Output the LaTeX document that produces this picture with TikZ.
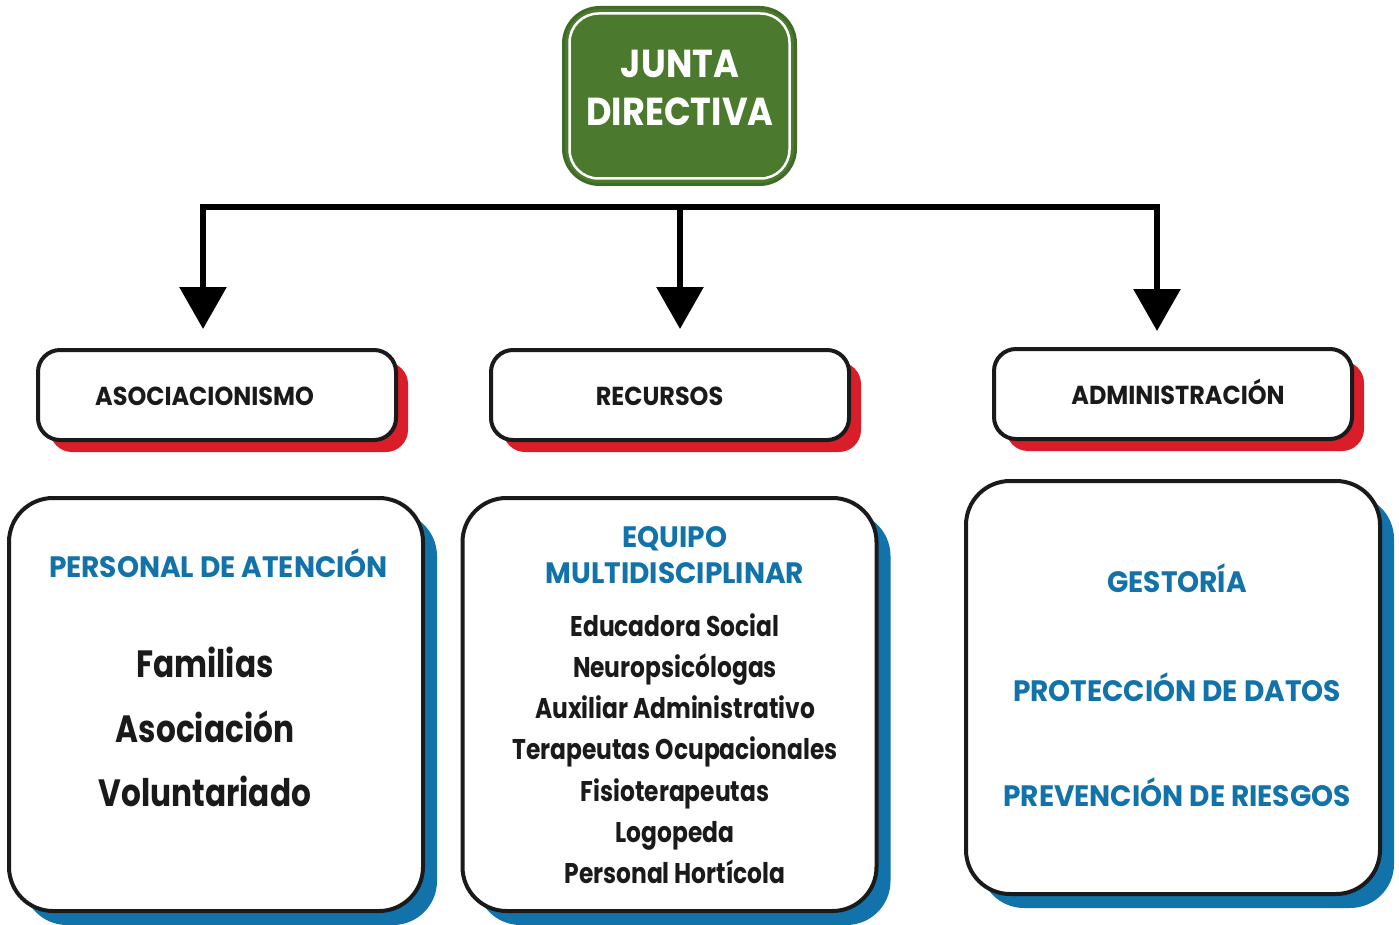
\documentclass[tikz,border=0pt]{standalone}
\usepackage{fontspec}
\setmainfont{Poppins}[FakeStretch=0.82, UprightFont=*-Bold, BoldFont=*-Bold]
\newfontfamily\capsfont{Poppins}[FakeStretch=0.95, UprightFont=*-Bold, BoldFont=*-Bold]
\newfontfamily\headfont{Poppins}[FakeStretch=0.92, UprightFont=*-Bold, BoldFont=*-Bold]
\newfontfamily\titlefont{Poppins}[FakeStretch=0.9, UprightFont=*-Bold, BoldFont=*-Bold]
\usetikzlibrary{arrows.meta,shadows,calc}
\definecolor{jgreen}{HTML}{4B7A2F}
\definecolor{jgreendark}{HTML}{3F6B27}
\definecolor{sred}{HTML}{D91E2A}
\definecolor{sblue}{HTML}{1273AB}
\definecolor{ink}{HTML}{1A1A1A}
\tikzset{
  tipbig/.tip={Triangle[width=46pt,length=42pt]},
  topbox/.style={fill=jgreen, draw=jgreendark, line width=3pt, rounded corners=36pt,
    minimum width=232pt, minimum height=177pt, inner sep=0pt},
  titletxt/.style={text=white, anchor=base, inner sep=0pt, font=\titlefont\fontsize{39}{47}\selectfont},
  headbox/.style={fill=white, draw=ink, line width=4pt, rounded corners=22pt,
    minimum width=358pt, minimum height=90pt, inner sep=0pt,
    general shadow={fill=sred, shadow xshift=12pt, shadow yshift=-12pt}},
  headtxt/.style={text=ink, anchor=base, inner sep=0pt, font=\headfont\fontsize{26}{30}\selectfont},
  bodybox/.style={fill=white, draw=ink, line width=4pt, rounded corners=44pt,
    minimum width=414pt, minimum height=413pt, inner sep=0pt,
    general shadow={fill=sblue, shadow xshift=14pt, shadow yshift=-14pt}},
  conn/.style={line width=6pt, draw=black, line join=miter},
  bluetxt/.style={text=sblue, anchor=base, inner sep=0pt, font=\capsfont\fontsize{29.5}{35}\selectfont},
  bigtxt/.style={text=ink, anchor=base, inner sep=0pt, font=\fontsize{38}{44}\selectfont},
  listtxt/.style={text=ink, anchor=base, inner sep=0pt, font=\fontsize{28.5}{33}\selectfont},
}
\begin{document}
\begin{tikzpicture}[x=1pt,y=-1pt]
\useasboundingbox (0,0) rectangle (1399,925);
% top box
\node[topbox] (jd) at (679.5,96) {};
\draw[white, line width=2.5pt, rounded corners=29pt]
  ($(jd.south west)+(7.5,-7.5)$) rectangle ($(jd.north east)+(-7.5,7.5)$);
\node[titletxt] (jd1) at (680,78) {JUNTA};
\node[titletxt] (jd2) at (680,126) {DIRECTIVA};
% header boxes
\node[headbox] (asoc) at (217,395) {};
\node[headtxt] (asoct) at (204.5,405) {ASOCIACIONISMO};
\node[headbox] (recu) at (670,395) {};
\node[headtxt] (recut) at (659.5,405) {RECURSOS};
\node[headbox] (admi) at (1173,394) {};
\node[headtxt] (admit) at (1178,404) {ADMINISTRACIÓN};
% connectors
\coordinate (c1) at (203,207);
\coordinate (c2) at (680,207);
\coordinate (c3) at (1157,207);
\draw[conn, tipbig-tipbig, shorten <=19pt, shorten >=16pt]
  (asoc.north -| c1) -- (c1) -- (c3) -- (admi.north -| c3);
\draw[conn, -tipbig, shorten >=19pt] (c2) -- (recu.north -| c2);
% body boxes
\node[bodybox] (b1) at (216,704.5) {};
\node[bodybox] (b2) at (669.5,704.5) {};
\node[bodybox] (b3) at (1173,687.5) {};
% box 1 text
\node[bluetxt] (p1) at (218.5,577) {PERSONAL DE ATENCIÓN};
\node[bigtxt] (f1) at (205,677) {Familias};
\node[bigtxt] (f2) at (205,742) {Asociación};
\node[bigtxt] (f3) at (205,806) {Voluntariado};
% box 2 text
\node[bluetxt] (eq1) at (675,547) {EQUIPO};
\node[bluetxt] (eq2) at (675,583) {MULTIDISCIPLINAR};
\node[listtxt] (l1) at (675,636.5) {Educadora Social};
\node[listtxt] (l2) at (675,677.5) {Neuropsicólogas};
\node[listtxt] (l3) at (675,718.5) {Auxiliar Administrativo};
\node[listtxt] (l4) at (675,759.5) {Terapeutas Ocupacionales};
\node[listtxt] (l5) at (675,801.5) {Fisioterapeutas};
\node[listtxt] (l6) at (675,842.5) {Logopeda};
\node[listtxt] (l7) at (675,883.5) {Personal Hortícola};
% box 3 text
\node[bluetxt] (g1) at (1177,592) {GESTORÍA};
\node[bluetxt] (g2) at (1177,701) {PROTECCIÓN DE DATOS};
\node[bluetxt] (g3) at (1177,806) {PREVENCIÓN DE RIESGOS};
\end{tikzpicture}
\end{document}
